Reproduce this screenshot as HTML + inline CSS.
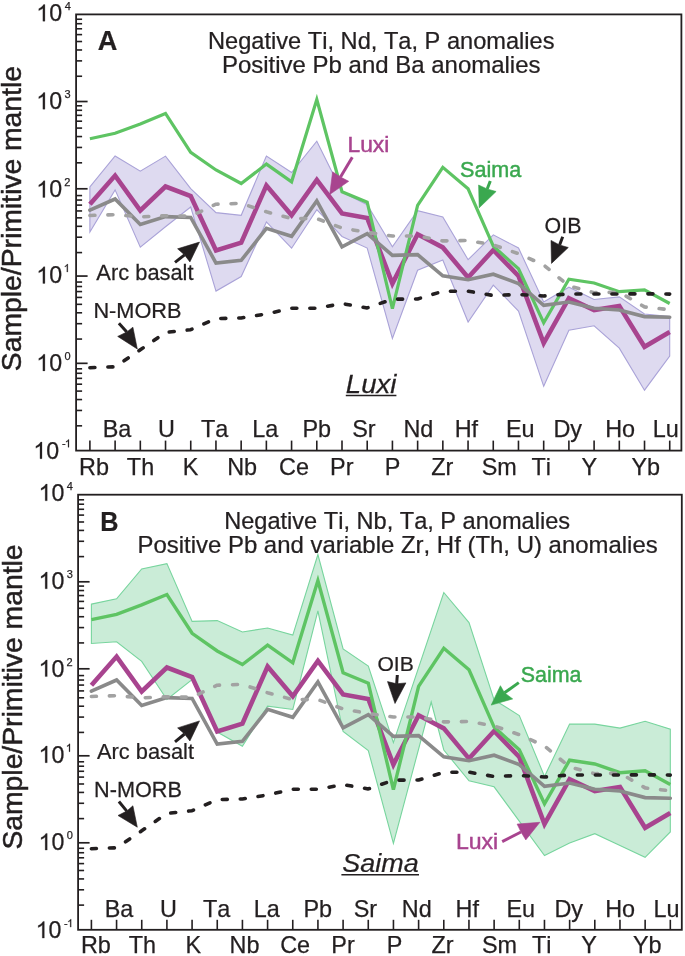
<!DOCTYPE html>
<html><head><meta charset="utf-8"><style>html,body{margin:0;padding:0;background:#fff;}body{width:685px;height:956px;overflow:hidden;font-family:"Liberation Sans",sans-serif;}svg{display:block;will-change:transform;}text{font-family:"Liberation Sans",sans-serif;}</style></head>
<body><svg width="685" height="956" viewBox="0 0 685 956" font-family="Liberation Sans, sans-serif" style="font-kerning:none"><polygon points="89.9,186.8 115.1,156.0 140.3,171.1 165.5,156.1 190.7,188.6 216.0,212.6 241.2,215.3 266.4,156.0 291.6,172.5 316.8,141.2 342.0,192.0 367.2,204.7 392.4,246.8 417.6,210.6 442.8,217.0 468.1,259.7 493.3,234.8 518.5,248.0 543.7,302.0 568.9,287.2 594.1,299.5 619.3,296.9 644.5,314.0 669.7,316.6 669.7,356.0 644.5,390.2 619.3,348.2 594.1,325.8 568.9,330.3 543.7,386.3 518.5,311.0 493.3,285.2 468.1,322.0 442.8,260.0 417.6,270.2 392.4,338.5 367.2,248.1 342.0,236.5 316.8,209.7 291.6,248.2 266.4,221.9 241.2,276.6 216.0,291.1 190.7,207.0 165.5,226.7 140.3,247.2 115.1,189.9 89.9,232.0" fill="#dedaf0" stroke="#aaa3d8" stroke-width="1.1" stroke-linejoin="miter"/><polyline points="89.9,204.3 115.1,175.6 140.3,210.5 165.5,186.5 190.7,196.0 216.0,250.5 241.2,242.7 266.4,185.5 291.6,215.3 316.8,179.8 342.0,213.5 367.2,218.0 392.4,283.5 417.6,234.3 442.8,247.4 468.1,277.6 493.3,250.0 518.5,276.0 543.7,343.1 568.9,298.2 594.1,310.0 619.3,306.1 644.5,346.8 669.7,331.9" fill="none" stroke="#a8448f" stroke-width="4.6" stroke-linejoin="miter"/><polyline points="89.9,138.7 115.1,133.3 140.3,123.9 165.5,113.5 190.7,152.3 216.0,170.0 241.2,183.5 266.4,164.1 291.6,181.8 316.8,99.6 342.0,191.7 367.2,202.2 392.4,308.6 417.6,205.4 442.8,167.3 468.1,188.8 493.3,246.1 518.5,268.8 543.7,322.8 568.9,279.2 594.1,283.0 619.3,291.7 644.5,289.8 669.7,303.5" fill="none" stroke="#5ec463" stroke-width="3.2" stroke-linejoin="miter"/><polyline points="89.9,210.2 115.1,199.0 140.3,224.5 165.5,216.6 190.7,217.4 216.0,263.0 241.2,260.4 266.4,228.4 291.6,236.3 316.8,200.9 342.0,246.8 367.2,233.7 392.4,255.4 417.6,254.6 442.8,275.8 468.1,279.7 493.3,274.2 518.5,283.6 543.7,305.4 568.9,302.0 594.1,308.2 619.3,310.0 644.5,316.6 669.7,317.2" fill="none" stroke="#8a8a8a" stroke-width="3.6" stroke-linejoin="miter" stroke-linecap="round"/><polyline points="89.9,215.5 115.1,214.6 140.3,216.9 165.5,215.7 190.7,216.2 216.0,204.2 241.2,203.4 266.4,211.8 291.6,218.6 316.8,218.6 342.0,228.0 367.2,232.4 392.4,236.0 417.6,236.0 442.8,240.9 468.1,240.5 493.3,244.9 518.5,253.7 543.7,265.0 568.9,286.0 594.1,292.7 619.3,292.2 644.5,306.9 669.7,309.8" fill="none" stroke="#a2a2a2" stroke-width="3.6" stroke-dasharray="5 13" stroke-linecap="round" stroke-linejoin="round"/><polyline points="89.9,367.7 115.1,366.8 140.3,349.8 165.5,332.4 190.7,329.7 216.0,318.6 241.2,318.0 266.4,313.9 291.6,308.3 316.8,308.3 342.0,303.6 367.2,307.9 392.4,299.2 417.6,299.0 442.8,291.3 468.1,291.2 493.3,295.5 518.5,294.5 543.7,296.0 568.9,293.9 594.1,294.0 619.3,294.0 644.5,293.8 669.7,294.1" fill="none" stroke="#231f20" stroke-width="3.6" stroke-dasharray="5 13" stroke-linecap="round" stroke-linejoin="round"/><rect x="76.1" y="14.4" width="605.3" height="436.20000000000005" fill="none" stroke="#231f20" stroke-width="1.8"/><line x1="76.1" y1="425.83" x2="82.1" y2="425.83" stroke="#231f20" stroke-width="1.6"/><line x1="76.1" y1="410.46" x2="82.1" y2="410.46" stroke="#231f20" stroke-width="1.6"/><line x1="76.1" y1="399.56" x2="82.1" y2="399.56" stroke="#231f20" stroke-width="1.6"/><line x1="76.1" y1="391.10" x2="82.1" y2="391.10" stroke="#231f20" stroke-width="1.6"/><line x1="76.1" y1="384.19" x2="82.1" y2="384.19" stroke="#231f20" stroke-width="1.6"/><line x1="76.1" y1="378.35" x2="82.1" y2="378.35" stroke="#231f20" stroke-width="1.6"/><line x1="76.1" y1="373.29" x2="82.1" y2="373.29" stroke="#231f20" stroke-width="1.6"/><line x1="76.1" y1="368.82" x2="82.1" y2="368.82" stroke="#231f20" stroke-width="1.6"/><line x1="76.1" y1="363.33" x2="87.6" y2="363.33" stroke="#231f20" stroke-width="1.7"/><line x1="76.1" y1="339.06" x2="82.1" y2="339.06" stroke="#231f20" stroke-width="1.6"/><line x1="76.1" y1="323.69" x2="82.1" y2="323.69" stroke="#231f20" stroke-width="1.6"/><line x1="76.1" y1="312.79" x2="82.1" y2="312.79" stroke="#231f20" stroke-width="1.6"/><line x1="76.1" y1="304.33" x2="82.1" y2="304.33" stroke="#231f20" stroke-width="1.6"/><line x1="76.1" y1="297.42" x2="82.1" y2="297.42" stroke="#231f20" stroke-width="1.6"/><line x1="76.1" y1="291.58" x2="82.1" y2="291.58" stroke="#231f20" stroke-width="1.6"/><line x1="76.1" y1="286.52" x2="82.1" y2="286.52" stroke="#231f20" stroke-width="1.6"/><line x1="76.1" y1="282.05" x2="82.1" y2="282.05" stroke="#231f20" stroke-width="1.6"/><line x1="76.1" y1="276.06" x2="87.6" y2="276.06" stroke="#231f20" stroke-width="1.7"/><line x1="76.1" y1="252.59" x2="82.1" y2="252.59" stroke="#231f20" stroke-width="1.6"/><line x1="76.1" y1="237.22" x2="82.1" y2="237.22" stroke="#231f20" stroke-width="1.6"/><line x1="76.1" y1="226.32" x2="82.1" y2="226.32" stroke="#231f20" stroke-width="1.6"/><line x1="76.1" y1="217.86" x2="82.1" y2="217.86" stroke="#231f20" stroke-width="1.6"/><line x1="76.1" y1="210.95" x2="82.1" y2="210.95" stroke="#231f20" stroke-width="1.6"/><line x1="76.1" y1="205.11" x2="82.1" y2="205.11" stroke="#231f20" stroke-width="1.6"/><line x1="76.1" y1="200.05" x2="82.1" y2="200.05" stroke="#231f20" stroke-width="1.6"/><line x1="76.1" y1="195.58" x2="82.1" y2="195.58" stroke="#231f20" stroke-width="1.6"/><line x1="76.1" y1="188.79" x2="87.6" y2="188.79" stroke="#231f20" stroke-width="1.7"/><line x1="76.1" y1="162.82" x2="82.1" y2="162.82" stroke="#231f20" stroke-width="1.6"/><line x1="76.1" y1="147.45" x2="82.1" y2="147.45" stroke="#231f20" stroke-width="1.6"/><line x1="76.1" y1="136.55" x2="82.1" y2="136.55" stroke="#231f20" stroke-width="1.6"/><line x1="76.1" y1="128.09" x2="82.1" y2="128.09" stroke="#231f20" stroke-width="1.6"/><line x1="76.1" y1="121.18" x2="82.1" y2="121.18" stroke="#231f20" stroke-width="1.6"/><line x1="76.1" y1="115.34" x2="82.1" y2="115.34" stroke="#231f20" stroke-width="1.6"/><line x1="76.1" y1="110.28" x2="82.1" y2="110.28" stroke="#231f20" stroke-width="1.6"/><line x1="76.1" y1="105.81" x2="82.1" y2="105.81" stroke="#231f20" stroke-width="1.6"/><line x1="76.1" y1="101.52" x2="87.6" y2="101.52" stroke="#231f20" stroke-width="1.7"/><line x1="76.1" y1="76.25" x2="82.1" y2="76.25" stroke="#231f20" stroke-width="1.6"/><line x1="76.1" y1="60.88" x2="82.1" y2="60.88" stroke="#231f20" stroke-width="1.6"/><line x1="76.1" y1="49.98" x2="82.1" y2="49.98" stroke="#231f20" stroke-width="1.6"/><line x1="76.1" y1="41.52" x2="82.1" y2="41.52" stroke="#231f20" stroke-width="1.6"/><line x1="76.1" y1="34.61" x2="82.1" y2="34.61" stroke="#231f20" stroke-width="1.6"/><line x1="76.1" y1="28.77" x2="82.1" y2="28.77" stroke="#231f20" stroke-width="1.6"/><line x1="76.1" y1="23.71" x2="82.1" y2="23.71" stroke="#231f20" stroke-width="1.6"/><line x1="76.1" y1="19.24" x2="82.1" y2="19.24" stroke="#231f20" stroke-width="1.6"/><line x1="89.90" y1="450.6" x2="89.90" y2="440.6" stroke="#231f20" stroke-width="1.6"/><line x1="115.11" y1="450.6" x2="115.11" y2="440.6" stroke="#231f20" stroke-width="1.6"/><line x1="140.32" y1="450.6" x2="140.32" y2="440.6" stroke="#231f20" stroke-width="1.6"/><line x1="165.53" y1="450.6" x2="165.53" y2="440.6" stroke="#231f20" stroke-width="1.6"/><line x1="190.74" y1="450.6" x2="190.74" y2="440.6" stroke="#231f20" stroke-width="1.6"/><line x1="215.95" y1="450.6" x2="215.95" y2="440.6" stroke="#231f20" stroke-width="1.6"/><line x1="241.16" y1="450.6" x2="241.16" y2="440.6" stroke="#231f20" stroke-width="1.6"/><line x1="266.37" y1="450.6" x2="266.37" y2="440.6" stroke="#231f20" stroke-width="1.6"/><line x1="291.58" y1="450.6" x2="291.58" y2="440.6" stroke="#231f20" stroke-width="1.6"/><line x1="316.79" y1="450.6" x2="316.79" y2="440.6" stroke="#231f20" stroke-width="1.6"/><line x1="342.00" y1="450.6" x2="342.00" y2="440.6" stroke="#231f20" stroke-width="1.6"/><line x1="367.21" y1="450.6" x2="367.21" y2="440.6" stroke="#231f20" stroke-width="1.6"/><line x1="392.42" y1="450.6" x2="392.42" y2="440.6" stroke="#231f20" stroke-width="1.6"/><line x1="417.63" y1="450.6" x2="417.63" y2="440.6" stroke="#231f20" stroke-width="1.6"/><line x1="442.84" y1="450.6" x2="442.84" y2="440.6" stroke="#231f20" stroke-width="1.6"/><line x1="468.05" y1="450.6" x2="468.05" y2="440.6" stroke="#231f20" stroke-width="1.6"/><line x1="493.26" y1="450.6" x2="493.26" y2="440.6" stroke="#231f20" stroke-width="1.6"/><line x1="518.47" y1="450.6" x2="518.47" y2="440.6" stroke="#231f20" stroke-width="1.6"/><line x1="543.68" y1="450.6" x2="543.68" y2="440.6" stroke="#231f20" stroke-width="1.6"/><line x1="568.89" y1="450.6" x2="568.89" y2="440.6" stroke="#231f20" stroke-width="1.6"/><line x1="594.10" y1="450.6" x2="594.10" y2="440.6" stroke="#231f20" stroke-width="1.6"/><line x1="619.31" y1="450.6" x2="619.31" y2="440.6" stroke="#231f20" stroke-width="1.6"/><line x1="644.52" y1="450.6" x2="644.52" y2="440.6" stroke="#231f20" stroke-width="1.6"/><line x1="669.73" y1="450.6" x2="669.73" y2="440.6" stroke="#231f20" stroke-width="1.6"/><path transform="translate(36.27,21.20) scale(0.01133,-0.01133)" d="M763 0H583V1147Q518 1085 412.5 1023T223 930V1104Q374 1175 487 1276T647 1472H763Z" fill="#231f20" stroke="#231f20" stroke-width="22.1"/><text x="49.18" y="21.20" font-size="23.2" fill="#231f20" stroke="#231f20" stroke-width="0.25">0</text><text x="64.65" y="9.80" font-size="11" fill="#231f20" stroke="#231f20" stroke-width="0.25">4</text><path transform="translate(36.27,109.20) scale(0.01133,-0.01133)" d="M763 0H583V1147Q518 1085 412.5 1023T223 930V1104Q374 1175 487 1276T647 1472H763Z" fill="#231f20" stroke="#231f20" stroke-width="22.1"/><text x="49.18" y="109.20" font-size="23.2" fill="#231f20" stroke="#231f20" stroke-width="0.25">0</text><text x="64.48" y="97.80" font-size="11" fill="#231f20" stroke="#231f20" stroke-width="0.25">3</text><path transform="translate(36.27,197.40) scale(0.01133,-0.01133)" d="M763 0H583V1147Q518 1085 412.5 1023T223 930V1104Q374 1175 487 1276T647 1472H763Z" fill="#231f20" stroke="#231f20" stroke-width="22.1"/><text x="49.18" y="197.40" font-size="23.2" fill="#231f20" stroke="#231f20" stroke-width="0.25">0</text><text x="64.35" y="186.00" font-size="11" fill="#231f20" stroke="#231f20" stroke-width="0.25">2</text><path transform="translate(36.27,283.40) scale(0.01133,-0.01133)" d="M763 0H583V1147Q518 1085 412.5 1023T223 930V1104Q374 1175 487 1276T647 1472H763Z" fill="#231f20" stroke="#231f20" stroke-width="22.1"/><text x="49.18" y="283.40" font-size="23.2" fill="#231f20" stroke="#231f20" stroke-width="0.25">0</text><path transform="translate(63.70,272.00) scale(0.00537,-0.00537)" d="M763 0H583V1147Q518 1085 412.5 1023T223 930V1104Q374 1175 487 1276T647 1472H763Z" fill="#231f20" stroke="#231f20" stroke-width="46.5"/><path transform="translate(36.27,370.90) scale(0.01133,-0.01133)" d="M763 0H583V1147Q518 1085 412.5 1023T223 930V1104Q374 1175 487 1276T647 1472H763Z" fill="#231f20" stroke="#231f20" stroke-width="22.1"/><text x="49.18" y="370.90" font-size="23.2" fill="#231f20" stroke="#231f20" stroke-width="0.25">0</text><text x="64.47" y="359.50" font-size="11" fill="#231f20" stroke="#231f20" stroke-width="0.25">0</text><path transform="translate(33.37,458.70) scale(0.01133,-0.01133)" d="M763 0H583V1147Q518 1085 412.5 1023T223 930V1104Q374 1175 487 1276T647 1472H763Z" fill="#231f20" stroke="#231f20" stroke-width="22.1"/><text x="46.28" y="458.70" font-size="23.2" fill="#231f20" stroke="#231f20" stroke-width="0.25">0</text><text x="61.90" y="447.30" font-size="11" fill="#231f20" stroke="#231f20" stroke-width="0.25">-</text><path transform="translate(64.87,447.30) scale(0.00537,-0.00537)" d="M763 0H583V1147Q518 1085 412.5 1023T223 930V1104Q374 1175 487 1276T647 1472H763Z" fill="#231f20" stroke="#231f20" stroke-width="46.5"/><text transform="translate(102.73,436.90) scale(1.0000,1)" font-size="23.4" fill="#231f20" stroke="#231f20" stroke-width="0.25">Ba</text><text transform="translate(157.95,436.90) scale(1.0000,1)" font-size="23.4" fill="#231f20" stroke="#231f20" stroke-width="0.25">U</text><text transform="translate(201.08,436.90) scale(1.0000,1)" font-size="23.4" fill="#231f20" stroke="#231f20" stroke-width="0.25">Ta</text><text transform="translate(252.13,436.90) scale(1.0000,1)" font-size="23.4" fill="#231f20" stroke="#231f20" stroke-width="0.25">La</text><text transform="translate(302.52,436.90) scale(1.0000,1)" font-size="23.4" fill="#231f20" stroke="#231f20" stroke-width="0.25">Pb</text><text transform="translate(352.26,436.90) scale(1.0000,1)" font-size="23.4" fill="#231f20" stroke="#231f20" stroke-width="0.25">Sr</text><text transform="translate(403.44,436.90) scale(1.0000,1)" font-size="23.4" fill="#231f20" stroke="#231f20" stroke-width="0.25">Nd</text><text transform="translate(454.72,436.90) scale(1.0000,1)" font-size="23.4" fill="#231f20" stroke="#231f20" stroke-width="0.25">Hf</text><text transform="translate(506.01,436.90) scale(1.0000,1)" font-size="23.4" fill="#231f20" stroke="#231f20" stroke-width="0.25">Eu</text><text transform="translate(553.46,436.90) scale(1.0000,1)" font-size="23.4" fill="#231f20" stroke="#231f20" stroke-width="0.25">Dy</text><text transform="translate(605.18,436.90) scale(1.0000,1)" font-size="23.4" fill="#231f20" stroke="#231f20" stroke-width="0.25">Ho</text><text transform="translate(652.70,436.90) scale(1.0000,1)" font-size="23.4" fill="#231f20" stroke="#231f20" stroke-width="0.25">Lu</text><text transform="translate(79.08,474.90) scale(1.0000,1)" font-size="23.4" fill="#231f20" stroke="#231f20" stroke-width="0.25">Rb</text><text transform="translate(126.84,474.90) scale(1.0000,1)" font-size="23.4" fill="#231f20" stroke="#231f20" stroke-width="0.25">Th</text><text transform="translate(182.87,474.90) scale(1.0000,1)" font-size="23.4" fill="#231f20" stroke="#231f20" stroke-width="0.25">K</text><text transform="translate(227.18,474.90) scale(1.0000,1)" font-size="23.4" fill="#231f20" stroke="#231f20" stroke-width="0.25">Nb</text><text transform="translate(279.07,474.90) scale(1.0000,1)" font-size="23.4" fill="#231f20" stroke="#231f20" stroke-width="0.25">Ce</text><text transform="translate(330.03,474.90) scale(1.0000,1)" font-size="23.4" fill="#231f20" stroke="#231f20" stroke-width="0.25">Pr</text><text transform="translate(384.65,474.90) scale(1.0000,1)" font-size="23.4" fill="#231f20" stroke="#231f20" stroke-width="0.25">P</text><text transform="translate(431.18,474.90) scale(1.0000,1)" font-size="23.4" fill="#231f20" stroke="#231f20" stroke-width="0.25">Zr</text><text transform="translate(481.69,474.90) scale(1.0000,1)" font-size="23.4" fill="#231f20" stroke="#231f20" stroke-width="0.25">Sm</text><text transform="translate(531.48,474.90) scale(1.0000,1)" font-size="23.4" fill="#231f20" stroke="#231f20" stroke-width="0.25">Ti</text><text transform="translate(581.50,474.90) scale(1.0000,1)" font-size="23.4" fill="#231f20" stroke="#231f20" stroke-width="0.25">Y</text><text transform="translate(631.52,474.90) scale(1.0000,1)" font-size="23.4" fill="#231f20" stroke="#231f20" stroke-width="0.25">Yb</text><text transform="translate(20.90,371.19) rotate(-90) scale(1.0374,1)" font-size="27.3" font-weight="normal" font-style="normal" fill="#231f20" stroke="#231f20" stroke-width="0.5">Sample/Primitive mantle</text><text transform="translate(97.82,49.90) scale(0.9937,1)" font-size="27.3" font-weight="bold" font-style="normal" fill="#231f20" stroke="#231f20" stroke-width="0.25">A</text><text transform="translate(208.06,48.80) scale(1.0055,1)" font-size="23.5" font-weight="normal" font-style="normal" fill="#231f20" stroke="#231f20" stroke-width="0.25">Negative Ti, Nd, Ta, P anomalies</text><text transform="translate(221.93,73.00) scale(1.0209,1)" font-size="23.5" font-weight="normal" font-style="normal" fill="#231f20" stroke="#231f20" stroke-width="0.25">Positive Pb and Ba anomalies</text><text transform="translate(347.53,152.10) scale(1.0219,1)" font-size="22.3" font-weight="normal" font-style="normal" fill="#a8448f" stroke="#a8448f" stroke-width="0.45">Luxi</text><line x1="352.3" y1="157.2" x2="340.5" y2="177" stroke="#a8448f" stroke-width="3.0"/><polygon points="329.7,194.5 332.6,171.8 340.5,177 348.7,181.3" fill="#a8448f" stroke="#a8448f" stroke-width="0.6" stroke-linejoin="miter"/><text transform="translate(460.02,177.20) scale(0.9993,1)" font-size="21.6" font-weight="normal" font-style="normal" fill="#3aa84f" stroke="#3aa84f" stroke-width="0.45">Saima</text><line x1="490.3" y1="181" x2="487.2" y2="189" stroke="#3aa84f" stroke-width="3.0"/><polygon points="479.2,207.8 478.6,185 487.2,189 496.1,191.5" fill="#3aa84f" stroke="#3aa84f" stroke-width="0.6" stroke-linejoin="miter"/><text transform="translate(544.59,233.40) scale(1.0088,1)" font-size="21.2" font-weight="normal" font-style="normal" fill="#231f20" stroke="#231f20" stroke-width="0.25">OIB</text><line x1="562.7" y1="236.8" x2="559.6" y2="245" stroke="#231f20" stroke-width="3.0"/><polygon points="551.5,263.4 551,240.4 559.6,245 568.3,247.5" fill="#231f20" stroke="#231f20" stroke-width="0.6" stroke-linejoin="miter"/><text transform="translate(96.36,280.10) scale(1.0028,1)" font-size="21.8" font-weight="normal" font-style="normal" fill="#231f20" stroke="#231f20" stroke-width="0.25">Arc basalt</text><line x1="175" y1="262.4" x2="184.6" y2="254.9" stroke="#231f20" stroke-width="3.0"/><polygon points="199.5,242.1 177.6,248.8 184.6,254.9 189.9,261.9" fill="#231f20" stroke="#231f20" stroke-width="0.6" stroke-linejoin="miter"/><text transform="translate(93.42,318.20) scale(1.0155,1)" font-size="21.4" font-weight="normal" font-style="normal" fill="#231f20" stroke="#231f20" stroke-width="0.25">N-MORB</text><line x1="118.9" y1="323.2" x2="126.8" y2="332" stroke="#231f20" stroke-width="3.0"/><polygon points="137.3,349 117.7,336.4 126.8,332 132.9,327.2" fill="#231f20" stroke="#231f20" stroke-width="0.6" stroke-linejoin="miter"/><text transform="translate(345.85,392.90) scale(1.0676,1)" font-size="25.8" font-weight="normal" font-style="italic" fill="#231f20" stroke="#231f20" stroke-width="0.25">Luxi</text><line x1="345.8" y1="395.5" x2="396.4" y2="395.5" stroke="#231f20" stroke-width="1.6"/><polygon points="91.4,604.1 116.6,598.8 141.7,568.9 166.9,563.6 192.1,621.4 217.2,620.6 242.4,632.0 267.6,628.0 292.8,635.1 317.9,554.5 343.1,649.0 368.3,666.1 393.4,742.6 443.8,592.5 469.0,622.6 494.1,699.8 519.3,715.5 544.5,776.5 569.6,724.1 594.8,724.1 620.0,728.1 645.1,721.3 670.3,729.1 670.3,831.9 645.1,857.3 620.0,845.5 594.8,833.7 569.6,842.9 544.5,855.5 494.1,786.8 469.0,780.8 443.8,750.0 431.2,702.0 393.4,843.3 368.3,750.5 343.1,731.5 317.9,610.9 292.8,709.5 267.6,706.1 242.4,746.3 217.2,732.0 192.1,679.6 166.9,699.5 141.7,661.4 116.6,641.7 91.4,643.5" fill="#caecd7" stroke="#78d59e" stroke-width="1.1" stroke-linejoin="miter"/><polyline points="91.4,685.3 116.6,656.6 141.7,691.5 166.9,667.5 192.1,677.0 217.2,731.5 242.4,723.7 267.6,666.5 292.8,696.3 317.9,660.8 343.1,694.5 368.3,699.0 393.4,764.5 418.6,715.3 443.8,728.4 469.0,758.6 494.1,731.0 519.3,757.0 544.5,824.1 569.6,779.2 594.8,791.0 620.0,787.1 645.1,827.8 670.3,812.9" fill="none" stroke="#a8448f" stroke-width="4.6" stroke-linejoin="miter"/><polyline points="91.4,619.7 116.6,614.3 141.7,604.9 166.9,594.5 192.1,633.3 217.2,651.0 242.4,664.5 267.6,645.1 292.8,662.8 317.9,580.6 343.1,672.7 368.3,683.2 393.4,789.6 418.6,686.4 443.8,648.3 469.0,669.8 494.1,727.1 519.3,749.8 544.5,803.8 569.6,760.2 594.8,764.0 620.0,772.7 645.1,770.8 670.3,784.5" fill="none" stroke="#5ec463" stroke-width="3.4" stroke-linejoin="miter"/><polyline points="91.4,691.2 116.6,680.0 141.7,705.5 166.9,697.6 192.1,698.4 217.2,744.0 242.4,741.4 267.6,709.4 292.8,717.3 317.9,681.9 343.1,727.8 368.3,714.7 393.4,736.4 418.6,735.6 443.8,756.8 469.0,760.7 494.1,755.2 519.3,764.6 544.5,786.4 569.6,783.0 594.8,789.2 620.0,791.0 645.1,797.6 670.3,798.2" fill="none" stroke="#8a8a8a" stroke-width="3.6" stroke-linejoin="miter" stroke-linecap="round"/><polyline points="91.4,696.5 116.6,695.6 141.7,697.9 166.9,696.7 192.1,697.2 217.2,685.2 242.4,684.4 267.6,692.8 292.8,699.6 317.9,699.6 343.1,709.0 368.3,713.4 393.4,717.0 418.6,717.0 443.8,721.9 469.0,721.5 494.1,725.9 519.3,734.7 544.5,746.0 569.6,767.0 594.8,773.7 620.0,773.2 645.1,787.9 670.3,790.8" fill="none" stroke="#a2a2a2" stroke-width="3.6" stroke-dasharray="5 13" stroke-linecap="round" stroke-linejoin="round"/><polyline points="91.4,848.7 116.6,847.8 141.7,830.8 166.9,813.4 192.1,810.7 217.2,799.6 242.4,799.0 267.6,794.9 292.8,789.3 317.9,789.3 343.1,784.6 368.3,788.9 393.4,780.2 418.6,780.0 443.8,772.3 469.0,772.2 494.1,776.5 519.3,775.5 544.5,777.0 569.6,774.9 594.8,775.0 620.0,775.0 645.1,774.8 670.3,775.1" fill="none" stroke="#231f20" stroke-width="3.6" stroke-dasharray="5 13" stroke-linecap="round" stroke-linejoin="round"/><rect x="78.1" y="494.7" width="603.6999999999999" height="435.09999999999997" fill="none" stroke="#231f20" stroke-width="1.8"/><line x1="78.1" y1="905.11" x2="84.1" y2="905.11" stroke="#231f20" stroke-width="1.6"/><line x1="78.1" y1="889.79" x2="84.1" y2="889.79" stroke="#231f20" stroke-width="1.6"/><line x1="78.1" y1="878.92" x2="84.1" y2="878.92" stroke="#231f20" stroke-width="1.6"/><line x1="78.1" y1="870.49" x2="84.1" y2="870.49" stroke="#231f20" stroke-width="1.6"/><line x1="78.1" y1="863.60" x2="84.1" y2="863.60" stroke="#231f20" stroke-width="1.6"/><line x1="78.1" y1="857.78" x2="84.1" y2="857.78" stroke="#231f20" stroke-width="1.6"/><line x1="78.1" y1="852.73" x2="84.1" y2="852.73" stroke="#231f20" stroke-width="1.6"/><line x1="78.1" y1="848.28" x2="84.1" y2="848.28" stroke="#231f20" stroke-width="1.6"/><line x1="78.1" y1="842.80" x2="89.6" y2="842.80" stroke="#231f20" stroke-width="1.7"/><line x1="78.1" y1="818.61" x2="84.1" y2="818.61" stroke="#231f20" stroke-width="1.6"/><line x1="78.1" y1="803.29" x2="84.1" y2="803.29" stroke="#231f20" stroke-width="1.6"/><line x1="78.1" y1="792.42" x2="84.1" y2="792.42" stroke="#231f20" stroke-width="1.6"/><line x1="78.1" y1="783.99" x2="84.1" y2="783.99" stroke="#231f20" stroke-width="1.6"/><line x1="78.1" y1="777.10" x2="84.1" y2="777.10" stroke="#231f20" stroke-width="1.6"/><line x1="78.1" y1="771.28" x2="84.1" y2="771.28" stroke="#231f20" stroke-width="1.6"/><line x1="78.1" y1="766.23" x2="84.1" y2="766.23" stroke="#231f20" stroke-width="1.6"/><line x1="78.1" y1="761.78" x2="84.1" y2="761.78" stroke="#231f20" stroke-width="1.6"/><line x1="78.1" y1="755.80" x2="89.6" y2="755.80" stroke="#231f20" stroke-width="1.7"/><line x1="78.1" y1="732.41" x2="84.1" y2="732.41" stroke="#231f20" stroke-width="1.6"/><line x1="78.1" y1="717.09" x2="84.1" y2="717.09" stroke="#231f20" stroke-width="1.6"/><line x1="78.1" y1="706.22" x2="84.1" y2="706.22" stroke="#231f20" stroke-width="1.6"/><line x1="78.1" y1="697.79" x2="84.1" y2="697.79" stroke="#231f20" stroke-width="1.6"/><line x1="78.1" y1="690.90" x2="84.1" y2="690.90" stroke="#231f20" stroke-width="1.6"/><line x1="78.1" y1="685.08" x2="84.1" y2="685.08" stroke="#231f20" stroke-width="1.6"/><line x1="78.1" y1="680.03" x2="84.1" y2="680.03" stroke="#231f20" stroke-width="1.6"/><line x1="78.1" y1="675.58" x2="84.1" y2="675.58" stroke="#231f20" stroke-width="1.6"/><line x1="78.1" y1="668.80" x2="89.6" y2="668.80" stroke="#231f20" stroke-width="1.7"/><line x1="78.1" y1="642.91" x2="84.1" y2="642.91" stroke="#231f20" stroke-width="1.6"/><line x1="78.1" y1="627.59" x2="84.1" y2="627.59" stroke="#231f20" stroke-width="1.6"/><line x1="78.1" y1="616.72" x2="84.1" y2="616.72" stroke="#231f20" stroke-width="1.6"/><line x1="78.1" y1="608.29" x2="84.1" y2="608.29" stroke="#231f20" stroke-width="1.6"/><line x1="78.1" y1="601.40" x2="84.1" y2="601.40" stroke="#231f20" stroke-width="1.6"/><line x1="78.1" y1="595.58" x2="84.1" y2="595.58" stroke="#231f20" stroke-width="1.6"/><line x1="78.1" y1="590.53" x2="84.1" y2="590.53" stroke="#231f20" stroke-width="1.6"/><line x1="78.1" y1="586.08" x2="84.1" y2="586.08" stroke="#231f20" stroke-width="1.6"/><line x1="78.1" y1="581.80" x2="89.6" y2="581.80" stroke="#231f20" stroke-width="1.7"/><line x1="78.1" y1="556.61" x2="84.1" y2="556.61" stroke="#231f20" stroke-width="1.6"/><line x1="78.1" y1="541.29" x2="84.1" y2="541.29" stroke="#231f20" stroke-width="1.6"/><line x1="78.1" y1="530.42" x2="84.1" y2="530.42" stroke="#231f20" stroke-width="1.6"/><line x1="78.1" y1="521.99" x2="84.1" y2="521.99" stroke="#231f20" stroke-width="1.6"/><line x1="78.1" y1="515.10" x2="84.1" y2="515.10" stroke="#231f20" stroke-width="1.6"/><line x1="78.1" y1="509.28" x2="84.1" y2="509.28" stroke="#231f20" stroke-width="1.6"/><line x1="78.1" y1="504.23" x2="84.1" y2="504.23" stroke="#231f20" stroke-width="1.6"/><line x1="78.1" y1="499.78" x2="84.1" y2="499.78" stroke="#231f20" stroke-width="1.6"/><line x1="91.40" y1="929.8" x2="91.40" y2="919.8" stroke="#231f20" stroke-width="1.6"/><line x1="116.57" y1="929.8" x2="116.57" y2="919.8" stroke="#231f20" stroke-width="1.6"/><line x1="141.74" y1="929.8" x2="141.74" y2="919.8" stroke="#231f20" stroke-width="1.6"/><line x1="166.91" y1="929.8" x2="166.91" y2="919.8" stroke="#231f20" stroke-width="1.6"/><line x1="192.08" y1="929.8" x2="192.08" y2="919.8" stroke="#231f20" stroke-width="1.6"/><line x1="217.25" y1="929.8" x2="217.25" y2="919.8" stroke="#231f20" stroke-width="1.6"/><line x1="242.42" y1="929.8" x2="242.42" y2="919.8" stroke="#231f20" stroke-width="1.6"/><line x1="267.59" y1="929.8" x2="267.59" y2="919.8" stroke="#231f20" stroke-width="1.6"/><line x1="292.76" y1="929.8" x2="292.76" y2="919.8" stroke="#231f20" stroke-width="1.6"/><line x1="317.93" y1="929.8" x2="317.93" y2="919.8" stroke="#231f20" stroke-width="1.6"/><line x1="343.10" y1="929.8" x2="343.10" y2="919.8" stroke="#231f20" stroke-width="1.6"/><line x1="368.27" y1="929.8" x2="368.27" y2="919.8" stroke="#231f20" stroke-width="1.6"/><line x1="393.44" y1="929.8" x2="393.44" y2="919.8" stroke="#231f20" stroke-width="1.6"/><line x1="418.61" y1="929.8" x2="418.61" y2="919.8" stroke="#231f20" stroke-width="1.6"/><line x1="443.78" y1="929.8" x2="443.78" y2="919.8" stroke="#231f20" stroke-width="1.6"/><line x1="468.95" y1="929.8" x2="468.95" y2="919.8" stroke="#231f20" stroke-width="1.6"/><line x1="494.12" y1="929.8" x2="494.12" y2="919.8" stroke="#231f20" stroke-width="1.6"/><line x1="519.29" y1="929.8" x2="519.29" y2="919.8" stroke="#231f20" stroke-width="1.6"/><line x1="544.46" y1="929.8" x2="544.46" y2="919.8" stroke="#231f20" stroke-width="1.6"/><line x1="569.63" y1="929.8" x2="569.63" y2="919.8" stroke="#231f20" stroke-width="1.6"/><line x1="594.80" y1="929.8" x2="594.80" y2="919.8" stroke="#231f20" stroke-width="1.6"/><line x1="619.97" y1="929.8" x2="619.97" y2="919.8" stroke="#231f20" stroke-width="1.6"/><line x1="645.14" y1="929.8" x2="645.14" y2="919.8" stroke="#231f20" stroke-width="1.6"/><line x1="670.31" y1="929.8" x2="670.31" y2="919.8" stroke="#231f20" stroke-width="1.6"/><path transform="translate(38.57,500.80) scale(0.01133,-0.01133)" d="M763 0H583V1147Q518 1085 412.5 1023T223 930V1104Q374 1175 487 1276T647 1472H763Z" fill="#231f20" stroke="#231f20" stroke-width="22.1"/><text x="51.48" y="500.80" font-size="23.2" fill="#231f20" stroke="#231f20" stroke-width="0.25">0</text><text x="66.85" y="489.80" font-size="11" fill="#231f20" stroke="#231f20" stroke-width="0.25">4</text><path transform="translate(38.57,588.80) scale(0.01133,-0.01133)" d="M763 0H583V1147Q518 1085 412.5 1023T223 930V1104Q374 1175 487 1276T647 1472H763Z" fill="#231f20" stroke="#231f20" stroke-width="22.1"/><text x="51.48" y="588.80" font-size="23.2" fill="#231f20" stroke="#231f20" stroke-width="0.25">0</text><text x="66.68" y="577.80" font-size="11" fill="#231f20" stroke="#231f20" stroke-width="0.25">3</text><path transform="translate(38.57,676.60) scale(0.01133,-0.01133)" d="M763 0H583V1147Q518 1085 412.5 1023T223 930V1104Q374 1175 487 1276T647 1472H763Z" fill="#231f20" stroke="#231f20" stroke-width="22.1"/><text x="51.48" y="676.60" font-size="23.2" fill="#231f20" stroke="#231f20" stroke-width="0.25">0</text><text x="66.55" y="665.60" font-size="11" fill="#231f20" stroke="#231f20" stroke-width="0.25">2</text><path transform="translate(38.57,762.70) scale(0.01133,-0.01133)" d="M763 0H583V1147Q518 1085 412.5 1023T223 930V1104Q374 1175 487 1276T647 1472H763Z" fill="#231f20" stroke="#231f20" stroke-width="22.1"/><text x="51.48" y="762.70" font-size="23.2" fill="#231f20" stroke="#231f20" stroke-width="0.25">0</text><path transform="translate(65.90,751.70) scale(0.00537,-0.00537)" d="M763 0H583V1147Q518 1085 412.5 1023T223 930V1104Q374 1175 487 1276T647 1472H763Z" fill="#231f20" stroke="#231f20" stroke-width="46.5"/><path transform="translate(38.57,850.10) scale(0.01133,-0.01133)" d="M763 0H583V1147Q518 1085 412.5 1023T223 930V1104Q374 1175 487 1276T647 1472H763Z" fill="#231f20" stroke="#231f20" stroke-width="22.1"/><text x="51.48" y="850.10" font-size="23.2" fill="#231f20" stroke="#231f20" stroke-width="0.25">0</text><text x="66.67" y="839.10" font-size="11" fill="#231f20" stroke="#231f20" stroke-width="0.25">0</text><path transform="translate(35.67,938.10) scale(0.01133,-0.01133)" d="M763 0H583V1147Q518 1085 412.5 1023T223 930V1104Q374 1175 487 1276T647 1472H763Z" fill="#231f20" stroke="#231f20" stroke-width="22.1"/><text x="48.58" y="938.10" font-size="23.2" fill="#231f20" stroke="#231f20" stroke-width="0.25">0</text><text x="64.10" y="927.10" font-size="11" fill="#231f20" stroke="#231f20" stroke-width="0.25">-</text><path transform="translate(67.07,927.10) scale(0.00537,-0.00537)" d="M763 0H583V1147Q518 1085 412.5 1023T223 930V1104Q374 1175 487 1276T647 1472H763Z" fill="#231f20" stroke="#231f20" stroke-width="46.5"/><text transform="translate(104.73,917.20) scale(1.0000,1)" font-size="23.4" fill="#231f20" stroke="#231f20" stroke-width="0.25">Ba</text><text transform="translate(160.05,917.20) scale(1.0000,1)" font-size="23.4" fill="#231f20" stroke="#231f20" stroke-width="0.25">U</text><text transform="translate(203.08,917.20) scale(1.0000,1)" font-size="23.4" fill="#231f20" stroke="#231f20" stroke-width="0.25">Ta</text><text transform="translate(253.63,917.20) scale(1.0000,1)" font-size="23.4" fill="#231f20" stroke="#231f20" stroke-width="0.25">La</text><text transform="translate(303.52,917.20) scale(1.0000,1)" font-size="23.4" fill="#231f20" stroke="#231f20" stroke-width="0.25">Pb</text><text transform="translate(353.66,917.20) scale(1.0000,1)" font-size="23.4" fill="#231f20" stroke="#231f20" stroke-width="0.25">Sr</text><text transform="translate(401.84,917.20) scale(1.0000,1)" font-size="23.4" fill="#231f20" stroke="#231f20" stroke-width="0.25">Nd</text><text transform="translate(455.52,917.20) scale(1.0000,1)" font-size="23.4" fill="#231f20" stroke="#231f20" stroke-width="0.25">Hf</text><text transform="translate(506.51,917.20) scale(1.0000,1)" font-size="23.4" fill="#231f20" stroke="#231f20" stroke-width="0.25">Eu</text><text transform="translate(554.46,917.20) scale(1.0000,1)" font-size="23.4" fill="#231f20" stroke="#231f20" stroke-width="0.25">Dy</text><text transform="translate(605.18,917.20) scale(1.0000,1)" font-size="23.4" fill="#231f20" stroke="#231f20" stroke-width="0.25">Ho</text><text transform="translate(653.40,917.20) scale(1.0000,1)" font-size="23.4" fill="#231f20" stroke="#231f20" stroke-width="0.25">Lu</text><text transform="translate(80.88,953.30) scale(1.0000,1)" font-size="23.4" fill="#231f20" stroke="#231f20" stroke-width="0.25">Rb</text><text transform="translate(128.74,953.30) scale(1.0000,1)" font-size="23.4" fill="#231f20" stroke="#231f20" stroke-width="0.25">Th</text><text transform="translate(185.47,953.30) scale(1.0000,1)" font-size="23.4" fill="#231f20" stroke="#231f20" stroke-width="0.25">K</text><text transform="translate(229.58,953.30) scale(1.0000,1)" font-size="23.4" fill="#231f20" stroke="#231f20" stroke-width="0.25">Nb</text><text transform="translate(280.17,953.30) scale(1.0000,1)" font-size="23.4" fill="#231f20" stroke="#231f20" stroke-width="0.25">Ce</text><text transform="translate(331.33,953.30) scale(1.0000,1)" font-size="23.4" fill="#231f20" stroke="#231f20" stroke-width="0.25">Pr</text><text transform="translate(386.75,953.30) scale(1.0000,1)" font-size="23.4" fill="#231f20" stroke="#231f20" stroke-width="0.25">P</text><text transform="translate(431.48,953.30) scale(1.0000,1)" font-size="23.4" fill="#231f20" stroke="#231f20" stroke-width="0.25">Zr</text><text transform="translate(481.99,953.30) scale(1.0000,1)" font-size="23.4" fill="#231f20" stroke="#231f20" stroke-width="0.25">Sm</text><text transform="translate(531.98,953.30) scale(1.0000,1)" font-size="23.4" fill="#231f20" stroke="#231f20" stroke-width="0.25">Ti</text><text transform="translate(581.30,953.30) scale(1.0000,1)" font-size="23.4" fill="#231f20" stroke="#231f20" stroke-width="0.25">Y</text><text transform="translate(633.02,953.30) scale(1.0000,1)" font-size="23.4" fill="#231f20" stroke="#231f20" stroke-width="0.25">Yb</text><text transform="translate(21.60,849.59) rotate(-90) scale(1.0374,1)" font-size="27.3" font-weight="normal" font-style="normal" fill="#231f20" stroke="#231f20" stroke-width="0.5">Sample/Primitive mantle</text><text transform="translate(100.21,530.70) scale(0.9250,1)" font-size="27.3" font-weight="bold" font-style="normal" fill="#231f20" stroke="#231f20" stroke-width="0.25">B</text><text transform="translate(224.17,529.20) scale(1.0037,1)" font-size="23.5" font-weight="normal" font-style="normal" fill="#231f20" stroke="#231f20" stroke-width="0.25">Negative Ti, Nb, Ta, P anomalies</text><text transform="translate(137.44,553.30) scale(1.0191,1)" font-size="23.5" font-weight="normal" font-style="normal" fill="#231f20" stroke="#231f20" stroke-width="0.25">Positive Pb and variable Zr, Hf (Th, U) anomalies</text><text transform="translate(377.40,670.80) scale(1.0134,1)" font-size="20.8" font-weight="normal" font-style="normal" fill="#231f20" stroke="#231f20" stroke-width="0.25">OIB</text><line x1="397.3" y1="675" x2="396.7" y2="683.8" stroke="#231f20" stroke-width="3.0"/><polygon points="395,703.5 387.5,681.6 396.7,683.8 405.9,682.9" fill="#231f20" stroke="#231f20" stroke-width="0.6" stroke-linejoin="miter"/><text transform="translate(520.83,682.20) scale(1.0002,1)" font-size="21.4" font-weight="normal" font-style="normal" fill="#3aa84f" stroke="#3aa84f" stroke-width="0.45">Saima</text><line x1="518.8" y1="682.6" x2="504.5" y2="692.8" stroke="#3aa84f" stroke-width="3.0"/><polygon points="491.2,705.1 500.4,685.7 504.5,692.8 512.7,698.9" fill="#3aa84f" stroke="#3aa84f" stroke-width="0.6" stroke-linejoin="miter"/><text transform="translate(96.96,758.80) scale(1.0018,1)" font-size="21.8" font-weight="normal" font-style="normal" fill="#231f20" stroke="#231f20" stroke-width="0.25">Arc basalt</text><line x1="175" y1="741.9" x2="184.6" y2="734" stroke="#231f20" stroke-width="3.0"/><polygon points="199.5,720.9 177.6,727.9 184.6,734 189.9,741" fill="#231f20" stroke="#231f20" stroke-width="0.6" stroke-linejoin="miter"/><text transform="translate(94.12,796.80) scale(1.0120,1)" font-size="21.4" font-weight="normal" font-style="normal" fill="#231f20" stroke="#231f20" stroke-width="0.25">N-MORB</text><line x1="118.9" y1="801.5" x2="126.8" y2="811.1" stroke="#231f20" stroke-width="3.0"/><polygon points="137.3,827.2 118,815.5 126.8,811.1 132.9,805.8" fill="#231f20" stroke="#231f20" stroke-width="0.6" stroke-linejoin="miter"/><text transform="translate(455.91,848.90) scale(1.0352,1)" font-size="22.3" font-weight="normal" font-style="normal" fill="#a8448f" stroke="#a8448f" stroke-width="0.45">Luxi</text><line x1="502.2" y1="841.6" x2="521" y2="832" stroke="#a8448f" stroke-width="3.0"/><polygon points="539.9,822.3 517.1,824.1 521,832 525.8,839.9" fill="#a8448f" stroke="#a8448f" stroke-width="0.6" stroke-linejoin="miter"/><text transform="translate(342.34,872.40) scale(1.0365,1)" font-size="26" font-weight="normal" font-style="italic" fill="#231f20" stroke="#231f20" stroke-width="0.25">Saima</text><line x1="341.4" y1="874.7" x2="419" y2="874.7" stroke="#231f20" stroke-width="1.6"/></svg></body></html>
